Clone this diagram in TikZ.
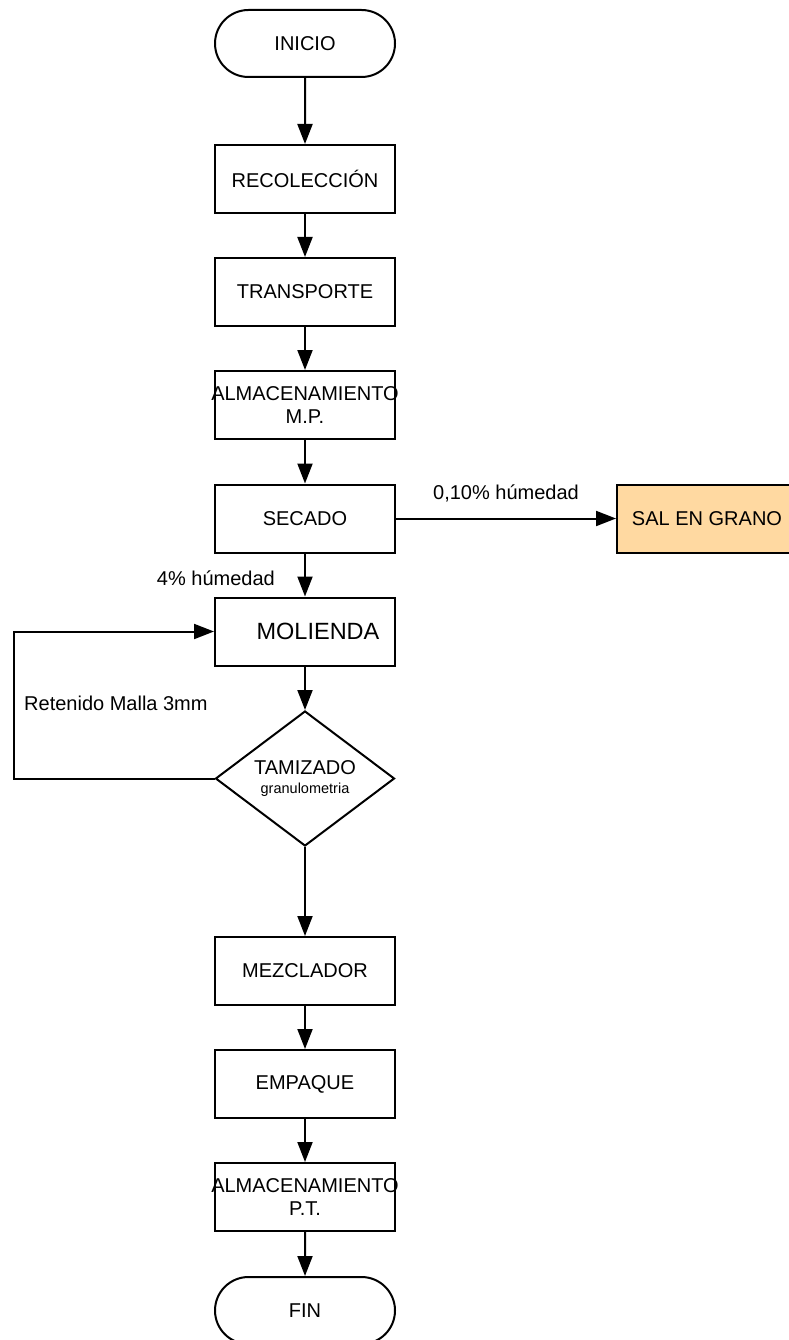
\documentclass[tikz,border=0pt]{standalone}
\usepackage{fontspec}
\setmainfont{Liberation Sans}
\usetikzlibrary{shapes.geometric,shapes.misc,arrows.meta}
\definecolor{salfill}{HTML}{FFD9A1}
\begin{document}
\begin{tikzpicture}[x=1pt,y=-1pt,
  every node/.style={font=\fontsize{20}{23}\selectfont, inner sep=0pt},
  box/.style={draw, line width=2pt, rectangle, minimum width=180pt, minimum height=68pt, align=center},
  term/.style={draw, line width=2pt, rounded rectangle, minimum width=180pt, minimum height=67pt},
  decis/.style={draw, line width=2pt, diamond, aspect=1.33, minimum width=179pt, minimum height=135pt, align=center},
  flow/.style={line width=2pt, -{Triangle[length=20pt,width=15pt]}},
  lbl/.style={font=\fontsize{20}{23}\selectfont}]
\useasboundingbox (0,0) rectangle (789,1340);
\node[term] (ini) at (305,43.5) {INICIO};
\node[box] (rec) at (305,179) {RECOLECCIÓN};
\node[box] (tra) at (305,292) {TRANSPORTE};
\node[box] (amp) at (305,405) {\makebox[0pt]{ALMACENAMIENTO}\\M.P.};
\node[box] (sec) at (305,518.5) {SECADO};
\node[box, fill=salfill] (sal) at (707,518.5) {\makebox[0pt]{SAL EN GRANO}};
\node[box, font=\fontsize{23.5}{27}\selectfont] (mol) at (305,631.5) {\hspace*{26pt}MOLIENDA};
\node[decis] (tam) at (305,778.5) {TAMIZADO\\[-4pt]{\fontsize{14.5}{17}\selectfont granulometria}};
\node[box] (mez) at (305,971) {MEZCLADOR};
\node[box] (emp) at (305,1084) {EMPAQUE};
\node[box] (apt) at (305,1197) {\makebox[0pt]{ALMACENAMIENTO}\\P.T.};
\node[term] (fin) at (305,1310.5) {FIN};
\coordinate (lp) at (14,778.5);
\draw[flow] (ini) -- (rec);
\draw[flow] (rec) -- (tra);
\draw[flow] (tra) -- (amp);
\draw[flow] (amp) -- (sec);
\draw[flow] (sec) -- (sal);
\draw[flow] (sec) -- (mol);
\draw[flow] (mol) -- (tam);
\draw[flow] (tam.west) -- (lp) |- (mol.west);
\draw[flow] (tam.south) -- (mez.north);
\draw[flow] (mez) -- (emp);
\draw[flow] (emp) -- (apt);
\draw[flow] (apt) -- (fin);
\node[lbl] (l1) at (506,493) {0,10\% húmedad};
\node[lbl, anchor=east] (l2) at (275,578) {4\% húmedad};
\node[lbl, anchor=west] (l3) at (24,703) {Retenido Malla 3mm};
\end{tikzpicture}
\end{document}
